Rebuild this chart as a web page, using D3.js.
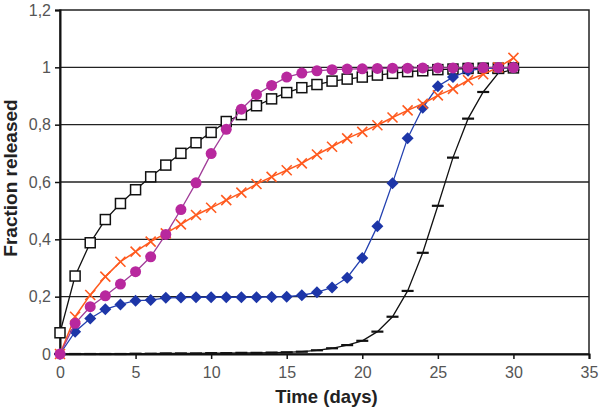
<!DOCTYPE html>
<html><head><meta charset="utf-8">
<script src="https://cdn.jsdelivr.net/npm/d3@7"></script>
<style>body{margin:0;background:#fff}svg{display:block}</style>
</head><body>
<script>
const days = d3.range(0, 31);
const xTicks = [0,5,10,15,20,25,30,35];
const yTicks = [0,0.2,0.4,0.6,0.8,1,1.2];
const yTickLabels = ["0","0,2","0,4","0,6","0,8","1","1,2"];
const squares = [0.074,0.272,0.388,0.469,0.525,0.573,0.618,0.659,0.700,0.737,0.773,0.811,0.835,0.866,0.890,0.912,0.929,0.940,0.952,0.959,0.966,0.973,0.979,0.985,0.988,0.992,0.994,0.996,0.997,0.997,0.998];
const circles = [0,0.107,0.165,0.203,0.244,0.287,0.339,0.417,0.504,0.597,0.699,0.784,0.854,0.905,0.937,0.966,0.980,0.988,0.992,0.994,0.995,0.996,0.997,0.997,0.998,0.998,0.998,0.999,0.999,0.999,0.999];
const diamonds = [0,0.078,0.124,0.156,0.173,0.186,0.188,0.196,0.197,0.198,0.198,0.198,0.198,0.198,0.199,0.200,0.205,0.215,0.232,0.266,0.335,0.446,0.596,0.753,0.859,0.934,0.966,0.988,0.996,0.998,0.999];
const crosses = [0,0.13,0.206,0.27,0.322,0.357,0.392,0.421,0.452,0.485,0.51,0.537,0.563,0.593,0.618,0.641,0.665,0.696,0.723,0.752,0.775,0.798,0.825,0.85,0.873,0.902,0.925,0.955,0.976,1.0,1.033];
const dashes = [0,0,0,0,0,0.001,0.001,0.002,0.002,0.002,0.003,0.003,0.004,0.004,0.005,0.006,0.008,0.013,0.02,0.031,0.046,0.078,0.13,0.22,0.353,0.517,0.685,0.821,0.914,0.98,0.992];

const W = 600, H = 411;
const m = {left:60, right:11, top:10, bottom:57};
const svg = d3.select("body").append("svg").attr("width", W).attr("height", H);
const x = d3.scaleLinear().domain([0,35]).range([m.left, W - m.right]);
const y = d3.scaleLinear().domain([0,1.2]).range([H - m.bottom, m.top]);

// grid lines
svg.append("g").selectAll("line").data(yTicks.filter(d => d > 0 && d < 1.2)).join("line")
  .attr("x1", x(0)).attr("x2", x(35)).attr("y1", d => y(d)).attr("y2", d => y(d))
  .attr("stroke", "#222").attr("stroke-width", 1.3);
// frame
svg.append("rect").attr("x", x(0)).attr("y", y(1.2)).attr("width", x(35) - x(0)).attr("height", y(0) - y(1.2))
  .attr("fill", "none").attr("stroke", "#222").attr("stroke-width", 1.5);

const fontFam = "'Liberation Sans', Arial, sans-serif";
const yAxis = d3.axisLeft(y).tickValues(yTicks).tickSize(5).tickPadding(4)
  .tickFormat((d, i) => yTickLabels[i]);
const gy = svg.append("g").attr("transform", `translate(${x(0)},0)`).call(yAxis);
const xAxis = d3.axisBottom(x).tickValues(xTicks).tickSize(5).tickPadding(8);
const gx = svg.append("g").attr("transform", `translate(0,${y(0)})`).call(xAxis);
[gy, gx].forEach(g => {
  g.select(".domain").attr("stroke", "#111").attr("stroke-width", 2);
  g.selectAll(".tick line").attr("stroke", "#111").attr("stroke-width", 1.5);
  g.selectAll(".tick text").attr("fill", "#555").attr("font-size", 16).attr("font-family", fontFam);
});

svg.append("text").attr("transform", `translate(16.5,178) rotate(-90)`)
  .attr("text-anchor", "middle").attr("font-family", fontFam).attr("font-weight", "bold")
  .attr("font-size", 19).attr("fill", "#222").text("Fraction released");
svg.append("text").attr("x", 326.5).attr("y", 403)
  .attr("text-anchor", "middle").attr("font-family", fontFam).attr("font-weight", "bold")
  .attr("font-size", 18.5).attr("fill", "#222").text("Time (days)");

const line = d3.line().x((d, i) => x(days[i])).y(d => y(d));

function drawSeries(vals, color, lw, marker) {
  const g = svg.append("g");
  g.append("path").attr("d", line(vals)).attr("fill", "none").attr("stroke", color).attr("stroke-width", lw);
  const pts = g.selectAll("g").data(vals).join("g")
    .attr("transform", (d, i) => `translate(${x(days[i])},${y(d)})`);
  marker(pts);
}

drawSeries(dashes, "#111", 1.3, s => s.append("line").attr("x1", -6).attr("x2", 6).attr("stroke", "#111").attr("stroke-width", 2.2));
drawSeries(squares, "#111", 1.3, s => s.append("rect").attr("x", -5).attr("y", -5).attr("width", 10).attr("height", 10)
  .attr("fill", "#fff").attr("stroke", "#111").attr("stroke-width", 1.5));
drawSeries(diamonds, "#2340b0", 1.3, s => s.append("path").attr("d", "M0,-6L6,0L0,6L-6,0Z").attr("fill", "#1d36a8"));
drawSeries(crosses, "#ff5a1f", 1.5, s => s.append("path").attr("d", "M-5,-5L5,5M-5,5L5,-5").attr("stroke", "#ff5a1f").attr("stroke-width", 1.6));
drawSeries(circles, "#a03c98", 1.3, s => s.append("circle").attr("r", 5.5).attr("fill", "#b8289e"));
</script>
</body></html>
